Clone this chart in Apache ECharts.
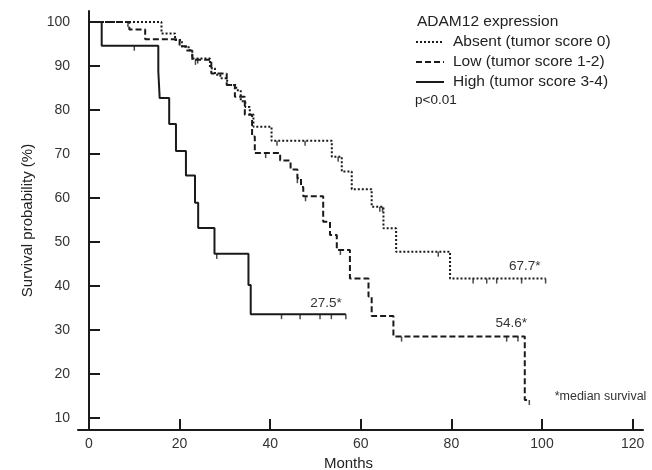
<!DOCTYPE html>
<html>
<head>
<meta charset="utf-8">
<title>ADAM12 survival</title>
<script src="https://cdn.jsdelivr.net/npm/echarts@6.0.0/dist/echarts.min.js"></script>
<style>
  html, body { margin: 0; padding: 0; background: #fff; }
  #main { width: 652px; height: 470px; }
</style>
</head>
<body>
<div id="main"></div>
<script>
// Kaplan-Meier steps: month of each drop and survival (%) after it
var absentTimes = [0, 16.0, 19.0, 20.5, 22.0, 22.8, 26.7, 27.8, 29.0, 30.5, 32.5, 33.5, 34.5, 35.5, 36.3, 40.3, 53.6, 55.8, 58.0, 62.4, 65.0, 67.8, 79.7];
var absentSurv  = [100, 97.4, 95.9, 94.4, 93.6, 91.7, 89.5, 88.0, 87.2, 85.7, 84.5, 82.0, 80.7, 79.0, 76.2, 73.0, 69.4, 66.0, 62.0, 58.0, 53.1, 47.8, 41.7];
var absentEnd = 100.8;
var absentCensor = [24, 41.5, 47.7, 55, 64.2, 64.8, 77.1, 84.8, 87.8, 90, 95.5, 100.8];

var lowTimes = [0, 8.9, 12.4, 20.0, 21.5, 22.8, 27.0, 30.4, 32.2, 34.4, 36.0, 36.6, 42.2, 44.5, 46.0, 46.8, 47.3, 51.7, 53.2, 54.7, 57.6, 61.7, 62.4, 67.2, 96.2];
var lowSurv  = [100, 98.3, 96.1, 94.5, 93.5, 91.4, 88.3, 85.7, 83.0, 78.9, 74.0, 70.2, 68.5, 66.5, 64.5, 62.5, 60.4, 54.6, 51.6, 48.2, 41.7, 37.6, 33.2, 28.5, 14.1];
var lowEnd = 97.2;
var lowCensor = [8.6, 23.5, 39, 46, 47.8, 55.5, 69, 92.2, 94.7, 97.2];

var highTimes = [0, 2.8, 15.3, 15.6, 17.7, 19.2, 21.4, 23.4, 24.1, 27.7, 35.2, 35.7];
var highSurv  = [100, 94.6, 88.8, 82.7, 76.8, 70.7, 65.1, 58.9, 53.2, 47.3, 40.2, 33.6];
var highEnd = 56.7;
var highCensor = [10, 28.2, 42.5, 46.6, 51.0, 53.5, 56.7];

var groupNames = ['Absent (tumor score 0)', 'Low (tumor score 1-2)', 'High (tumor score 3-4)'];
var medians = ['67.7*', '54.6*', '27.5*'];
var xTicks = [0, 20, 40, 60, 80, 100, 120];
var yTicks = [10, 20, 30, 40, 50, 60, 70, 80, 90, 100];

function stepData(times, surv, end) {
    var d = [];
    for (var i = 0; i < times.length; i++) d.push([times[i], surv[i]]);
    d.push([end, surv[surv.length - 1]]);
    return d;
}
function survAt(times, surv, t) {
    var s = surv[0];
    for (var i = 0; i < times.length; i++) { if (times[i] <= t) s = surv[i]; }
    return s;
}
function censorData(times, surv, cens) {
    return cens.map(function (t) { return [t, survAt(times, surv, t)]; });
}

var font = 'Liberation Sans, Arial, sans-serif';
var ink = '#1a1a1a';

function kmLine(name, data, dash, mp) {
    return {
        name: name, type: 'line', step: 'end', data: data,
        symbol: 'none', color: ink, silent: true,
        lineStyle: { color: ink, width: 2, type: dash },
        markPoint: mp
    };
}
function censorSeries(data) {
    return {
        type: 'scatter', data: data, silent: true,
        symbol: 'rect', symbolSize: [1.5, 5], symbolOffset: [0, 2.5],
        itemStyle: { color: ink }
    };
}
function medianMark(text, coord) {
    return {
        symbol: 'circle', symbolSize: 0, silent: true,
        label: { show: true, position: 'inside', formatter: text, color: '#333', fontSize: 13.5, fontFamily: font },
        data: [{ coord: coord }]
    };
}

var myChart = echarts.init(document.getElementById('main'));
var option = {
    backgroundColor: '#fff',
    animation: false,
    grid: { left: 78, right: 9, top: 11, bottom: 40, outerBoundsMode: 'none' },
    legend: {
        data: groupNames, orient: 'vertical', left: 415, top: 34, padding: 0,
        itemWidth: 28, itemHeight: 14, itemGap: 4,
        itemStyle: { opacity: 0 },
        textStyle: { fontSize: 15.5, fontFamily: font, color: '#222', padding: [0, 0, 0, 4] }
    },
    graphic: [
        { type: 'text', left: 417, top: 14, style: { text: 'ADAM12 expression', font: '15.5px ' + font, fill: '#222' } },
        { type: 'text', left: 415, top: 93, style: { text: 'p<0.01', font: '13.5px ' + font, fill: '#222' } }
    ],
    xAxis: {
        type: 'value', min: -2.43, max: 122.3,
        name: 'Months', nameLocation: 'middle', nameGap: 25,
        nameTextStyle: { fontSize: 15, fontFamily: font, color: '#222', padding: [0, 24, 0, 0] },
        axisLine: { lineStyle: { color: ink, width: 2 } },
        axisTick: { inside: true, length: 11, lineStyle: { color: ink, width: 2 }, customValues: xTicks },
        axisLabel: { fontSize: 14, fontFamily: font, color: '#333', margin: 7, customValues: xTicks },
        splitLine: { show: false }
    },
    yAxis: {
        type: 'value', min: 7.27, max: 102.5,
        name: 'Survival probability (%)', nameLocation: 'middle', nameGap: 36,
        nameTextStyle: { fontSize: 15, fontFamily: font, color: '#222' },
        axisLine: { show: true, lineStyle: { color: ink, width: 2 } },
        axisTick: { show: true, inside: true, length: 11, lineStyle: { color: ink, width: 2 }, customValues: yTicks },
        axisLabel: { fontSize: 14, fontFamily: font, color: '#333', margin: 8, customValues: yTicks },
        splitLine: { show: false }
    },
    series: [
        kmLine(groupNames[0], stepData(absentTimes, absentSurv, absentEnd), [2, 2], medianMark(medians[0], [96.2, 44.5])),
        kmLine(groupNames[1], stepData(lowTimes, lowSurv, lowEnd), [6, 3], {
            symbol: 'circle', symbolSize: 0, silent: true,
            label: { show: true, position: 'inside', color: '#333', fontSize: 13.5, fontFamily: font },
            data: [
                { coord: [93.2, 31.6], label: { formatter: medians[1] } },
                { coord: [102.8, 14.8], label: { formatter: '*median survival', align: 'left', fontSize: 12.5 } }
            ]
        }),
        kmLine(groupNames[2], stepData(highTimes, highSurv, highEnd), 'solid', medianMark(medians[2], [52.3, 36.1])),
        censorSeries(censorData(absentTimes, absentSurv, absentCensor)),
        censorSeries(censorData(lowTimes, lowSurv, lowCensor)),
        censorSeries(censorData(highTimes, highSurv, highCensor))
    ]
};
myChart.setOption(option);
</script>
</body>
</html>
